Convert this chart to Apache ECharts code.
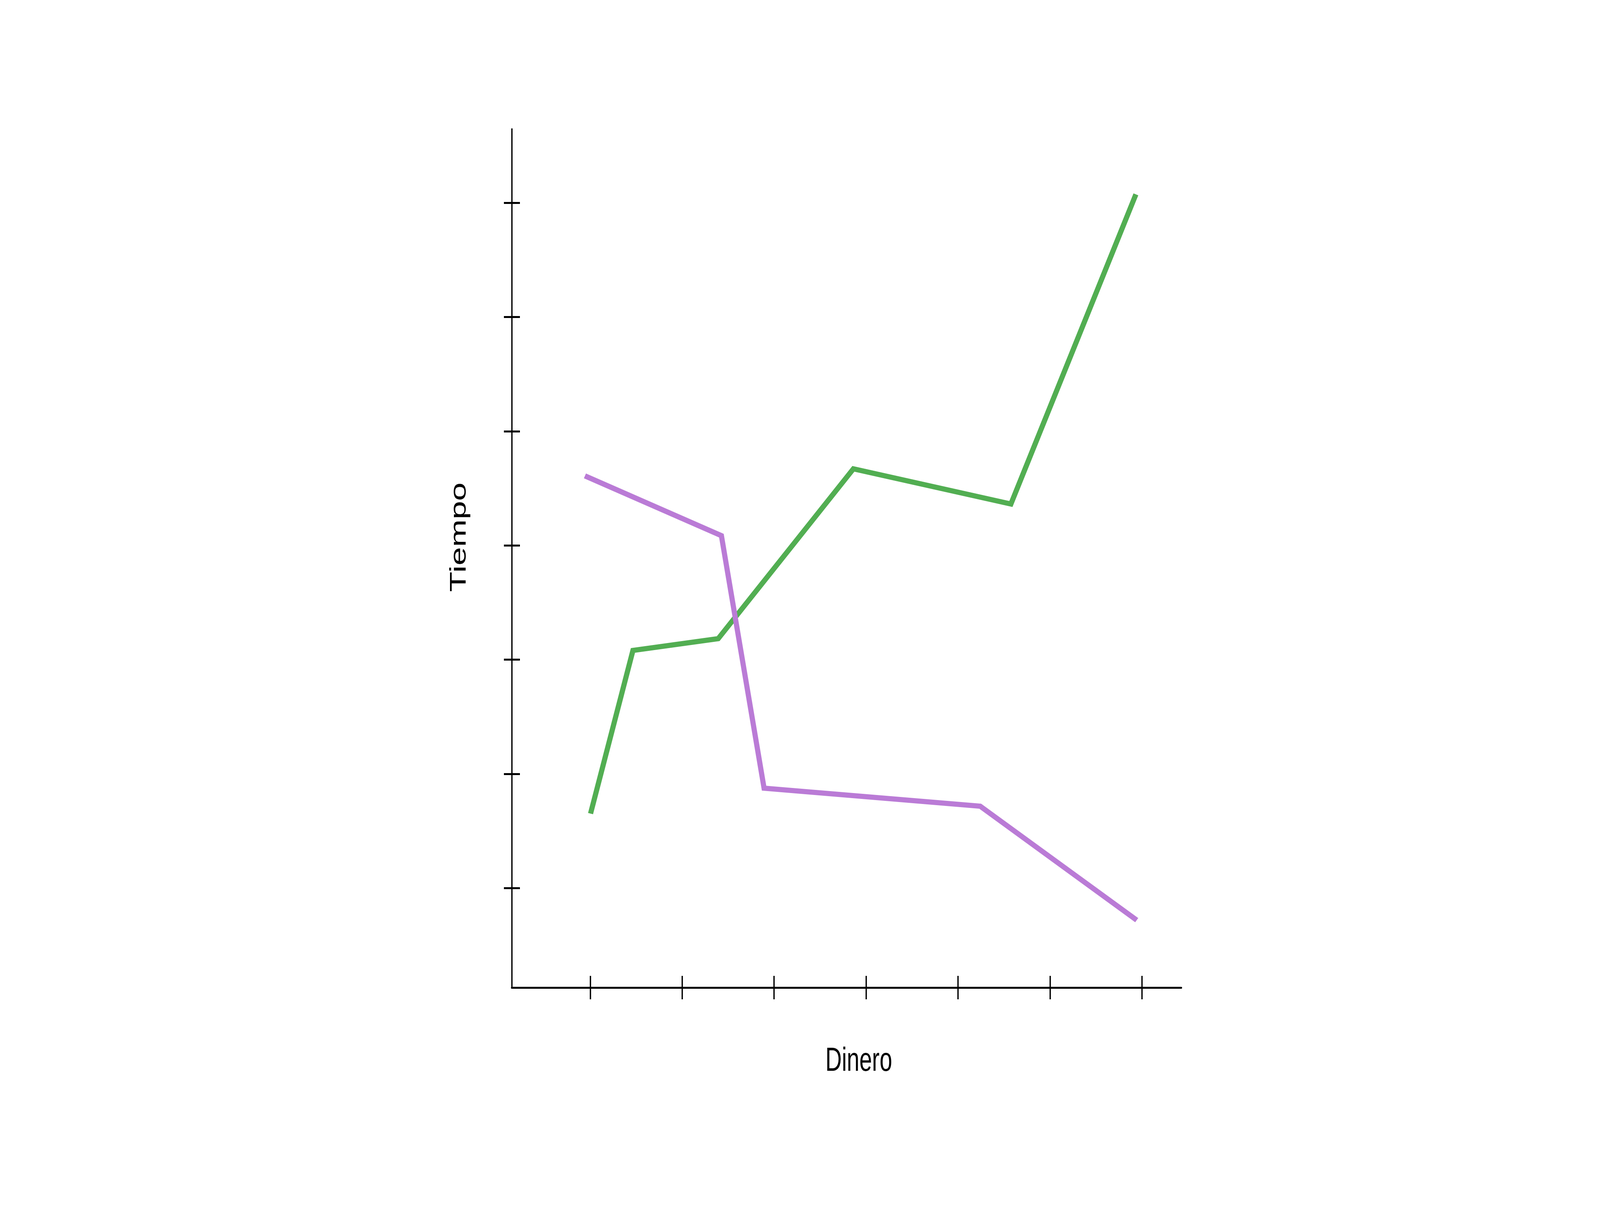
<!DOCTYPE html>
<html>
<head>
<meta charset="utf-8">
<script src="https://cdn.jsdelivr.net/npm/echarts@6/dist/echarts.min.js"></script>
<style>
  html, body { margin: 0; padding: 0; background: #ffffff; overflow: hidden; }
  #main { width: 100vw; height: 100vh; }
</style>
</head>
<body>
<div id="main"></div>
<script>
// tick positions (no labels on the chart, only marks)
var x_ticks = [1, 2, 3, 4, 5, 6, 7];
var y_ticks = [1, 2, 3, 4, 5, 6, 7];

// axis extents, in tick units
var x_min = 0.149, x_max = 7.426;
var y_min = 0.130, y_max = 7.646;

// series (x in "Dinero" ticks, y in "Tiempo" ticks)
var green_x = [1.004, 1.465, 2.392, 3.862, 5.575, 6.934];
var green_y = [1.653, 3.081, 3.184, 4.671, 4.363, 7.073];

var purple_x = [0.943, 2.427, 2.891, 5.241, 6.943];
var purple_y = [4.609, 4.086, 1.875, 1.718, 0.720];

var x_name = 'Dinero';
var y_name = 'Tiempo';

function zipPoints(xs, ys) {
	var pts = [];
	for (var i = 0; i < xs.length; i++) {
		pts.push([xs[i], ys[i]]);
	}
	return pts;
}

// layout was measured on a 6001 x 3105 page, scale it to the real window
var REF_W = 6001, REF_H = 3105;

function buildOption(W, H) {
	var sx = W / REF_W, sy = H / REF_H;
	var s_line = Math.sqrt(sx * sy);

	// vertical strokes thin with sx, horizontal ones with sy
	var x_axis = function(show_line, inside) {
		return {
			type: 'value', position: 'bottom', offset: 0, min: x_min, max: x_max,
			axisLine: { show: show_line, lineStyle: { color: '#000000', width: 5 * sy } },
			axisTick: { show: true, inside: inside, length: 30 * sy, customValues: x_ticks,
				lineStyle: { color: '#000000', width: 5 * sx } },
			axisLabel: { show: false },
			splitLine: { show: false }
		};
	};
	var y_axis = function(show_line, inside) {
		return {
			type: 'value', position: 'left', offset: 0, min: y_min, max: y_max,
			axisLine: { show: show_line, lineStyle: { color: '#000000', width: 5 * sx } },
			axisTick: { show: true, inside: inside, length: 30 * sx, customValues: y_ticks,
				lineStyle: { color: '#000000', width: 5 * sy } },
			axisLabel: { show: false },
			splitLine: { show: false }
		};
	};

	var name_style = function(txt) {
		return { text: txt, fontSize: 85, fontFamily: 'Liberation Sans', fill: '#000000', align: 'center', verticalAlign: 'middle' };
	};

	return {
		animation: false,
		backgroundColor: '#ffffff',
		grid: { left: 1920 * sx, right: 1571 * sx, top: 330 * sy, bottom: 577 * sy },
		xAxis: [x_axis(true, false), x_axis(false, true)],
		yAxis: [y_axis(true, false), y_axis(false, true)],
		graphic: [
			{
				type: 'text', x: 3221 * sx, y: 2718 * sy, scaleX: sx, scaleY: sy,
				style: name_style(x_name)
			},
			{
				// rotated: local x runs up the page, local y runs across it
				type: 'text', x: 1723 * sx, y: 1375 * sy, rotation: Math.PI / 2, scaleX: sy, scaleY: sx,
				style: name_style(y_name)
			}
		],
		series: [
			{
				type: 'line', xAxisIndex: 0, yAxisIndex: 0,
				data: zipPoints(green_x, green_y),
				showSymbol: false, symbol: 'none',
				lineStyle: { color: '#52ae52', width: 16 * s_line, join: 'miter', cap: 'butt' }
			},
			{
				type: 'line', xAxisIndex: 0, yAxisIndex: 0,
				data: zipPoints(purple_x, purple_y),
				showSymbol: false, symbol: 'none',
				lineStyle: { color: '#ba7bd6', width: 16 * s_line, join: 'miter', cap: 'butt' }
			}
		]
	};
}

var dom = document.getElementById('main');
var chart = echarts.init(dom, null, { renderer: 'canvas' });
chart.setOption(buildOption(dom.clientWidth, dom.clientHeight));

window.addEventListener('resize', function() {
	chart.resize();
	chart.setOption(buildOption(dom.clientWidth, dom.clientHeight), true);
});
</script>
</body>
</html>
